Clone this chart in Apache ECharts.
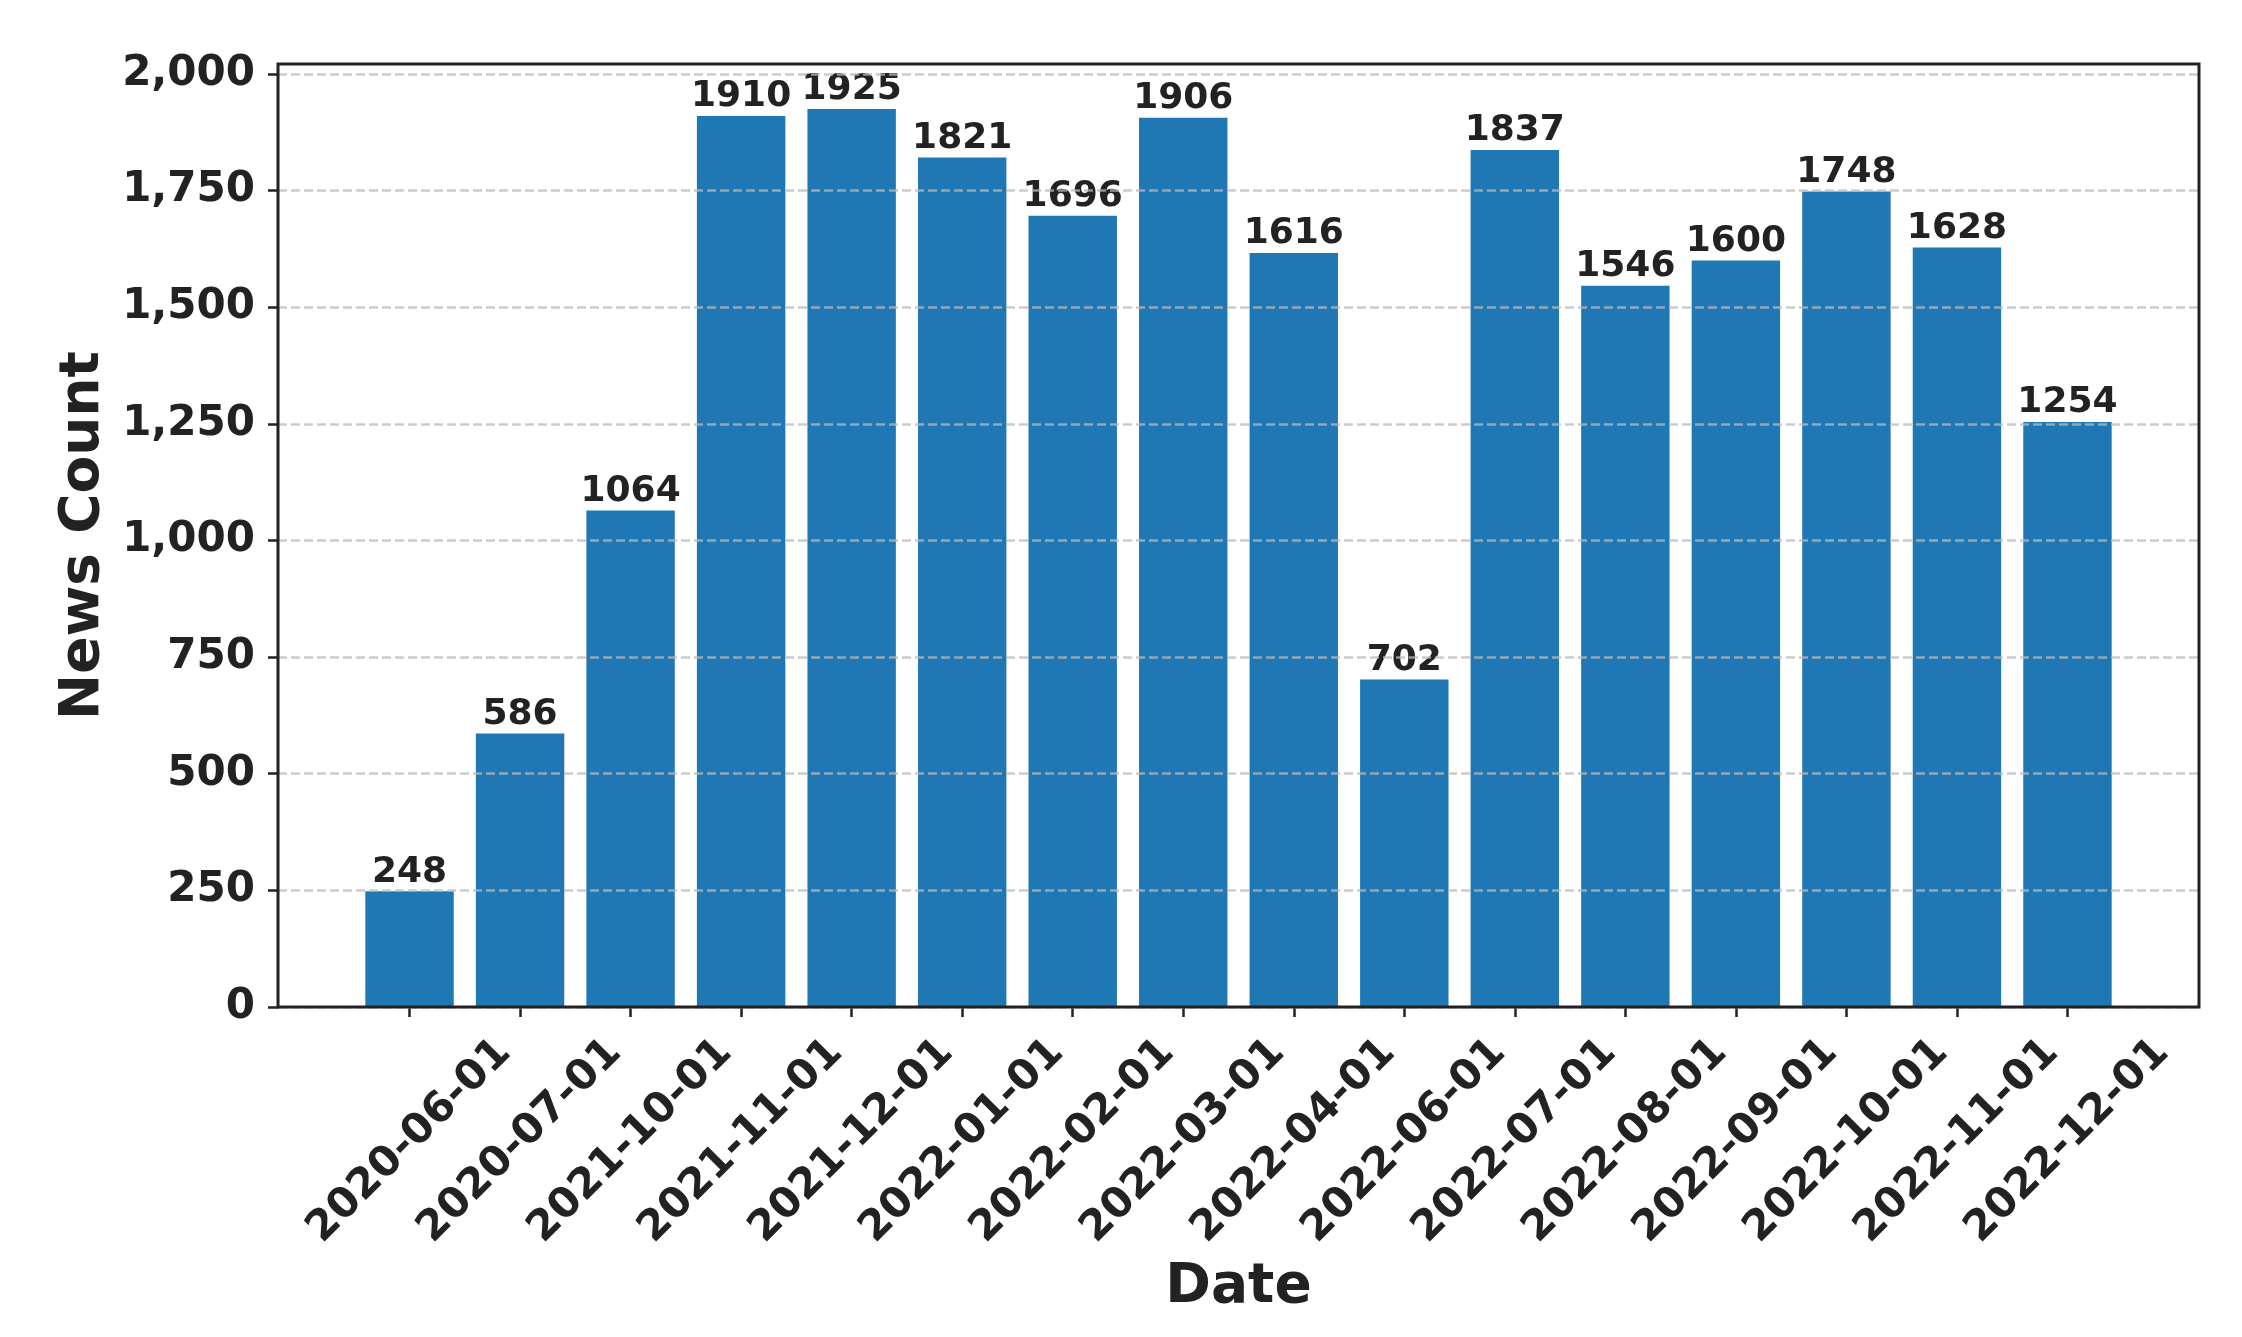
<!DOCTYPE html>
<html>
<head>
<meta charset="utf-8">
<script src="https://cdn.jsdelivr.net/npm/echarts@6/dist/echarts.min.js"></script>
<style>
  html, body { margin: 0; padding: 0; background: #ffffff; }
  #chart { width: 2242px; height: 1337px; }
</style>
</head>
<body>
<div id="chart"></div>
<script>
const categories = ['2020-06-01','2020-07-01','2021-10-01','2021-11-01','2021-12-01','2022-01-01','2022-02-01','2022-03-01','2022-04-01','2022-06-01','2022-07-01','2022-08-01','2022-09-01','2022-10-01','2022-11-01','2022-12-01'];
const newsCounts = [248, 586, 1064, 1910, 1925, 1821, 1696, 1906, 1616, 702, 1837, 1546, 1600, 1748, 1628, 1254];
const yTicks = [0, 250, 500, 750, 1000, 1250, 1500, 1750, 2000];
const yMax = 2021.25;

const FONT = 'DejaVu Sans';
const TEXT = '#222222';

const chart = echarts.init(document.getElementById('chart'), null, { renderer: 'canvas' });

const frame = { left: 278, top: 64, width: 1921, height: 943 };
const band = frame.width / 17.38;
const barGrid = { left: 278 + 0.69 * band, top: 64, width: 16 * band, height: 943 };

chart.setOption({
  backgroundColor: '#ffffff',
  animation: false,
  grid: [
    { left: frame.left, top: frame.top, width: frame.width, height: frame.height,
      show: true, backgroundColor: 'transparent', borderColor: TEXT, borderWidth: 3, z: 30 },
    { left: barGrid.left, top: barGrid.top, width: barGrid.width, height: barGrid.height }
  ],
  xAxis: [
    { gridIndex: 0, type: 'value', min: 0, max: 1, show: false },
    { gridIndex: 1, type: 'category', data: categories,
      axisLine: { show: false },
      axisTick: { show: true, alignWithLabel: true, length: 10, lineStyle: { color: TEXT, width: 2.5 } },
      axisLabel: { rotate: 45, align: 'center', verticalAlign: 'middle', margin: 134,
        fontFamily: FONT, fontWeight: 'bold', fontSize: 42, color: TEXT, interval: 0 },
      name: 'Date', nameLocation: 'middle', nameGap: 253,
      nameTextStyle: { fontFamily: FONT, fontWeight: 'bold', fontSize: 55, color: TEXT }
    }
  ],
  yAxis: [
    { gridIndex: 0, type: 'value', min: 0, max: yMax, interval: 250, z: 10,
      axisLine: { show: false },
      axisTick: { show: true, length: 10, customValues: yTicks, lineStyle: { color: TEXT, width: 2.5 } },
      axisLabel: { margin: 23, customValues: yTicks, fontFamily: FONT, fontWeight: 'bold', fontSize: 42, color: TEXT,
        formatter: v => (v % 250 === 0 ? v.toLocaleString('en-US') : '') },
      splitLine: { show: true, lineStyle: { color: 'rgba(185,185,185,0.75)', width: 2.5, type: [9, 4] } },
      name: 'News Count', nameLocation: 'middle', nameGap: 166,
      nameTextStyle: { fontFamily: FONT, fontWeight: 'bold', fontSize: 55, color: TEXT }
    },
    { gridIndex: 1, type: 'value', min: 0, max: yMax, show: false }
  ],
  series: [{
    type: 'bar', xAxisIndex: 1, yAxisIndex: 1,
    data: newsCounts, barWidth: '80%',
    itemStyle: { color: '#1f77b4' },
    label: { show: true, position: 'top', distance: 1, fontFamily: FONT, fontWeight: 'bold', fontSize: 36, color: TEXT }
  }]
});
</script>
</body>
</html>
